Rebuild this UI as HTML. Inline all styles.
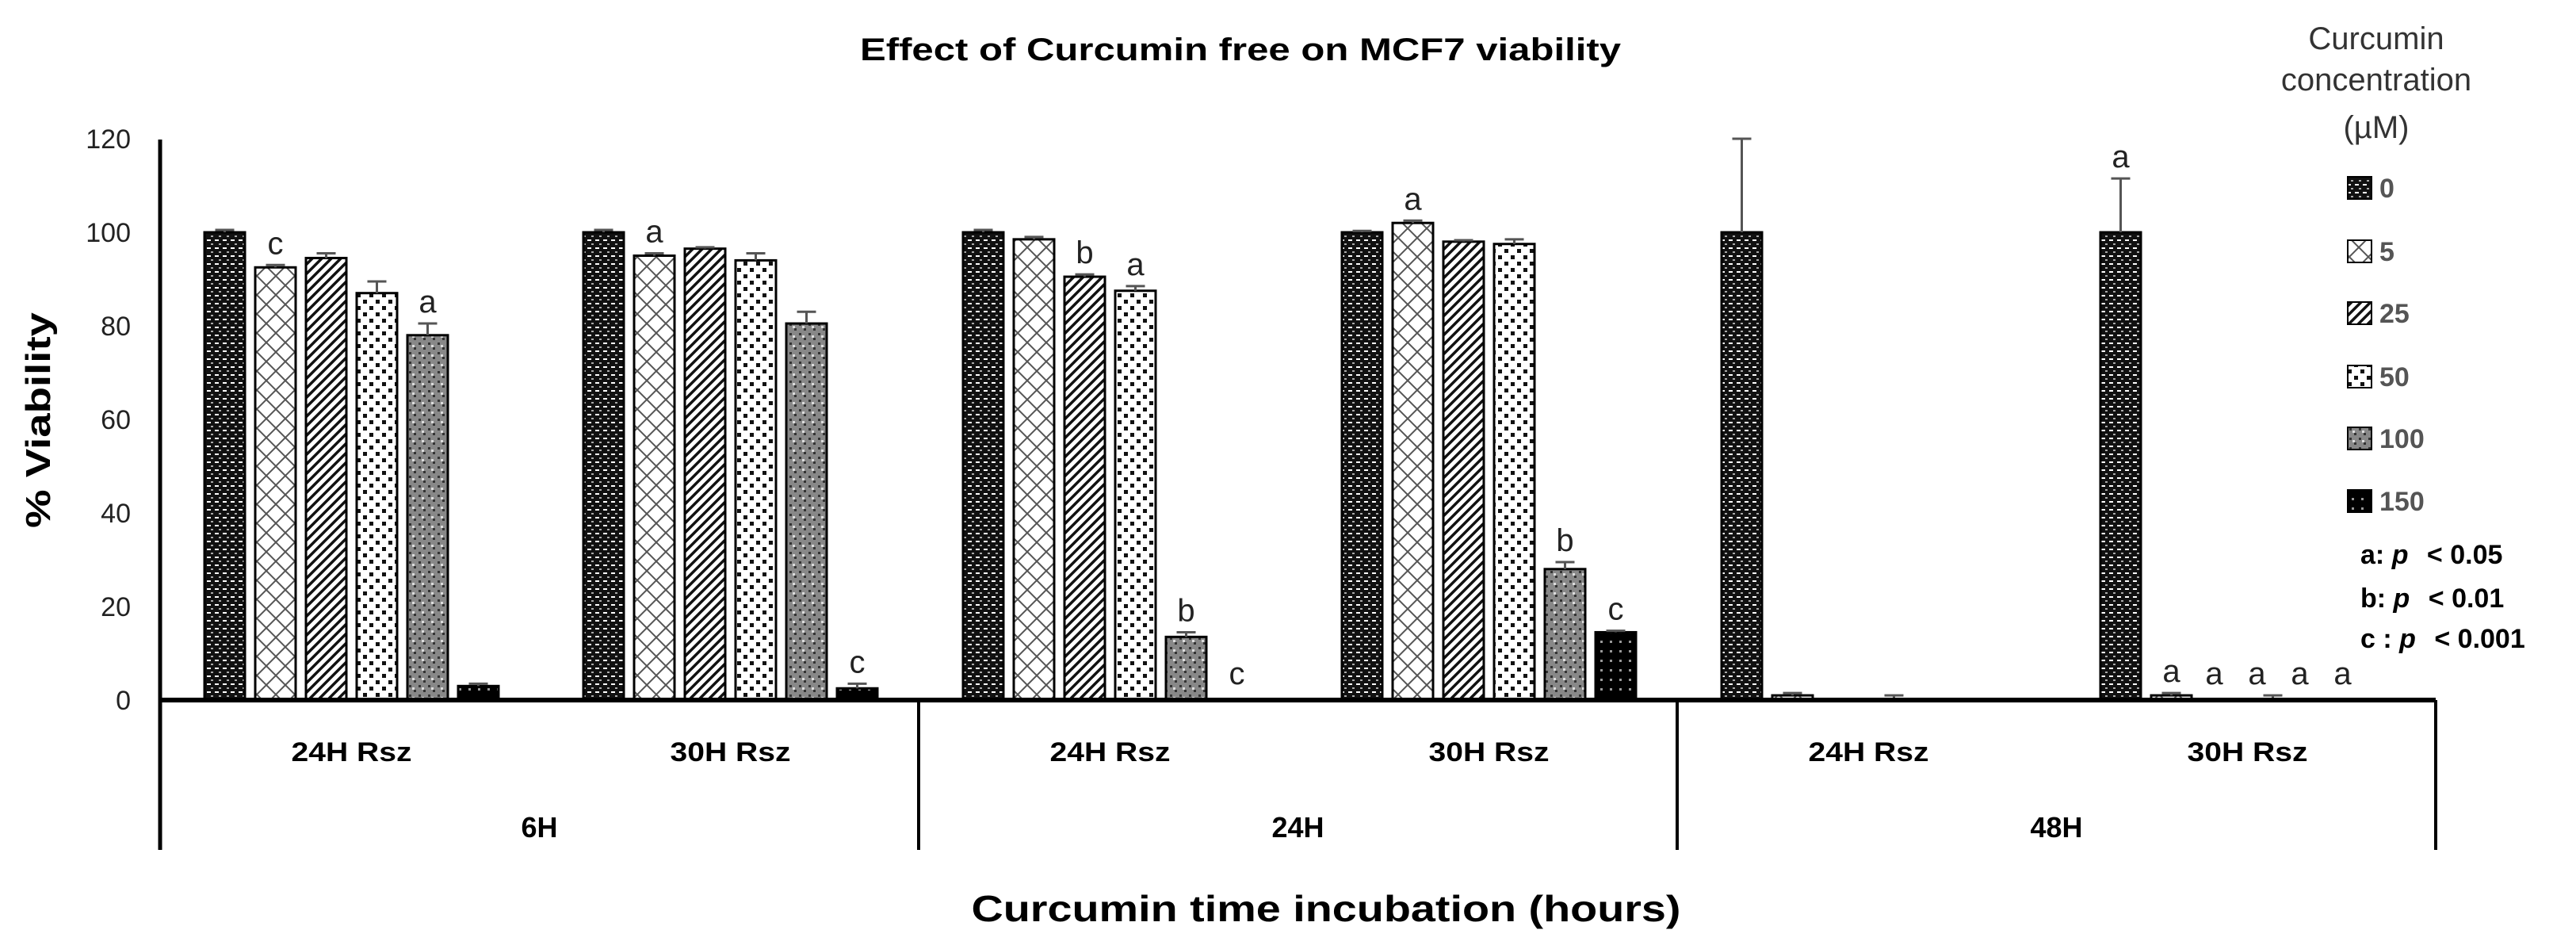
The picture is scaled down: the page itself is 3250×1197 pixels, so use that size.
<!DOCTYPE html>
<html><head><meta charset="utf-8"><style>
html,body{margin:0;padding:0;background:#fff}
svg{display:block}
text{font-family:"Liberation Sans",sans-serif}
</style></head><body>
<svg id="chart" width="3250" height="1197" viewBox="0 0 3250 1197" xmlns="http://www.w3.org/2000/svg">
<defs>
<pattern id="p0" patternUnits="userSpaceOnUse" width="10" height="10"><rect width="10" height="10" fill="#111"/><rect x="1" y="2" width="5" height="2" fill="#fff"/><rect x="6" y="7" width="3" height="2" fill="#aaa"/></pattern>
<pattern id="p1" patternUnits="userSpaceOnUse" width="24" height="24"><rect width="24" height="24" fill="#fff"/><path d="M0 0L24 24M24 0L0 24" stroke="#555" stroke-width="2"/></pattern>
<pattern id="p2" patternUnits="userSpaceOnUse" width="12" height="12"><rect width="12" height="12" fill="#fff"/><path d="M-3 3L3 -3M0 12L12 0M9 15L15 9" stroke="#111" stroke-width="3.5"/></pattern>
<pattern id="p3" patternUnits="userSpaceOnUse" width="16" height="16"><rect width="16" height="16" fill="#fff"/><rect x="2" y="2" width="5" height="5" fill="#111"/><rect x="10" y="10" width="5" height="5" fill="#111"/></pattern>
<pattern id="p4" patternUnits="userSpaceOnUse" width="12" height="12"><rect width="12" height="12" fill="#888"/><rect x="0" y="0" width="3" height="3" fill="#333"/><rect x="6" y="6" width="3" height="3" fill="#333"/><rect x="4" y="3" width="3" height="3" fill="#ddd"/></pattern>
<pattern id="p5" patternUnits="userSpaceOnUse" width="12" height="12"><rect width="12" height="12" fill="#000"/><rect x="3" y="4" width="3" height="3" fill="#999"/></pattern>
</defs>
<g id="plot"></g>
</svg>
<script>
const groups = ["6H","24H","48H"];
const subgroups = ["24H Rsz","30H Rsz"];
const concentrations = ["0","5","25","50","100","150"];
const yTicks = [0,20,40,60,80,100,120];
const values = [
  [100,92.5,94.5,87,78,3],
  [100,95,96.5,94,80.5,2.5],
  [100,98.5,90.5,87.5,13.5,0],
  [100,102,98,97.5,28,14.5],
  [100,1,0,0,0,0],
  [100,1,0,0,0,0]
];
const errors = [
  [0.5,0.5,1,2.5,2.5,0.5],
  [0.5,0.5,0.3,1.5,2.5,1],
  [0.5,0.5,0.5,1,1,0],
  [0.3,0.5,0.3,1,1.5,0.3],
  [20,0.5,0,1,0,0],
  [11.5,0.5,0,1,0,0]
];
const sigLabels = [
  ["","c","","","a",""],
  ["","a","","","","c"],
  ["","","b","a","b","c"],
  ["","a","","","b","c"],
  ["","","","","",""],
  ["a","a","a","a","a","a"]
];

const NS="http://www.w3.org/2000/svg";
const svg=document.getElementById('plot');
function el(tag,attrs,txt){const e=document.createElementNS(NS,tag);for(const k in attrs)e.setAttribute(k,attrs[k]);if(txt!==undefined)e.textContent=txt;svg.appendChild(e);return e;}
const X0=202, GW=957, Y0=883, PXU=5.9;
const yS=v=>Y0-v*PXU;
const barW=51, step=64, subOff=[56,534];
const barX=(g,s,i)=>X0+g*GW+subOff[s]+i*step;

let t=el('text',{x:1085,y:76,'font-size':40,'font-weight':'bold',textLength:960,lengthAdjust:'spacingAndGlyphs'},'Effect of Curcumin free on MCF7 viability');



yTicks.forEach(v=>{
  const e=el('text',{x:165,y:yS(v)+12,'font-size':34,'text-anchor':'end',fill:'#222'},String(v));
  
  
});
t=el('text',{x:0,y:0,'font-size':44,'font-weight':'bold',transform:'translate(63,530) rotate(-90)','text-anchor':'middle',textLength:272,lengthAdjust:'spacingAndGlyphs'},'% Viability');



for(let g=0;g<groups.length;g++){
  for(let s=0;s<subgroups.length;s++){
    const k=g*2+s;
    for(let i=0;i<concentrations.length;i++){
      const v=values[k][i], x=barX(g,s,i), top=yS(v);
      if(v>0){
        const r=el('rect',{x:x,y:top,width:barW,height:Y0-top,fill:'url(#p'+i+')',stroke:'#000','stroke-width':3});
        
        
      }
      const err=errors[k][i];
      let etop=top;
      if(err>0){
        etop=yS(v+err);
        const cx=x+barW/2;
        const eb=el('path',{d:`M${cx} ${top}V${etop}M${cx-12} ${etop}H${cx+12}`,stroke:'#555','stroke-width':3,fill:'none'});
        
        
      }
      const lab=sigLabels[k][i];
      if(lab){
        const ly = v===0 && err===0 ? Y0-20 : etop-14;
        const lx = (g===2 && s===1 && i>0) ? x+barW/2-(i-1)*10 : x+barW/2;
        const e=el('text',{x:lx,y:ly,'font-size':40,'text-anchor':'middle',fill:'#222'},lab);
        
        
      }
    }
    const cx=barX(g,s,0)+(5*step+barW)/2;
    const st=el('text',{x:cx,y:960,'font-size':34,'font-weight':'bold','text-anchor':'middle',textLength:152,lengthAdjust:'spacingAndGlyphs'},subgroups[s]);
    
    
  }
  const gt=el('text',{x:X0+g*GW+GW/2,y:1056,'font-size':36,'font-weight':'bold','text-anchor':'middle'},groups[g]);
  
  
}

let a=el('line',{x1:X0,y1:176,x2:X0,y2:1072,stroke:'#000','stroke-width':5});


a=el('line',{x1:X0,y1:Y0,x2:X0+3*GW,y2:Y0,stroke:'#000','stroke-width':6});


for(let g=1;g<=3;g++){
  const l=el('line',{x1:X0+g*GW,y1:Y0,x2:X0+g*GW,y2:1072,stroke:'#000','stroke-width':4});
  
  
}
t=el('text',{x:1673,y:1162,'font-size':46,'font-weight':'bold','text-anchor':'middle',textLength:895,lengthAdjust:'spacingAndGlyphs'},'Curcumin time incubation (hours)');



[['Curcumin',62],['concentration',114],['(\u00b5M)',174]].forEach(([s,y])=>{
  const e=el('text',{x:2998,y:y,'font-size':40,'text-anchor':'middle',fill:'#333'},s);
  
  
});
const legY=[237,317,395,475,553,632];
concentrations.forEach((c,i)=>{
  const r=el('rect',{x:2962,y:legY[i]-14,width:30,height:28,fill:'url(#p'+i+')',stroke:'#000','stroke-width':2});
  
  
  const e=el('text',{x:3002,y:legY[i]+12,'font-size':34,'font-weight':'bold',fill:'#555'},c);
  
  
});
[['a: ','< 0.05',711],['b: ','< 0.01',766],['c : ','< 0.001',817]].forEach(([p,s,y])=>{
  const e=el('text',{x:2978,y:y,'font-size':34,'font-weight':'bold'});
  
  
  const t1=document.createElementNS(NS,'tspan');t1.textContent=p;e.appendChild(t1);
  const t2=document.createElementNS(NS,'tspan');t2.setAttribute('font-style','italic');t2.textContent='p';e.appendChild(t2);
  const t3=document.createElementNS(NS,'tspan');t3.textContent='  '+s;t3.setAttribute('dx','14');e.appendChild(t3);
});
</script>
</body></html>
